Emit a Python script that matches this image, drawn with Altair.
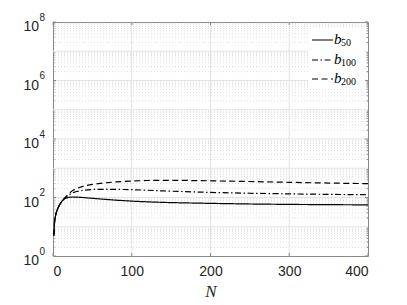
import altair as alt
import pandas as pd

# ---- data ----
N = [1, 2, 3, 4, 6, 8, 10, 12, 15, 20, 25, 30, 40, 50, 60, 70, 80, 100, 120, 140, 160, 200, 250, 300, 350, 400]
b50 = [5, 15, 22, 30, 42, 54, 66, 78, 92, 102, 104, 103, 99, 94, 89, 85, 81, 75, 71, 68, 66, 63, 60, 58, 57, 56]
b100 = [5, 15, 22, 30, 42, 54, 66, 79, 96, 122, 145, 160, 178, 188, 191, 191, 190, 185, 177, 168, 161, 149, 140, 133, 128, 124]
b200 = [5, 15, 22, 30, 42, 54, 66, 79, 97, 135, 175, 205, 250, 280, 305, 325, 340, 365, 382, 388, 386, 372, 352, 330, 312, 297]

series_names = ["b50", "b100", "b200"]
series_subs = ["50", "100", "200"]
series_values = [b50, b100, b200]
series_dash = [[1, 0], [6, 2.5, 1.5, 2.5], [6, 3.5]]

x_ticks = [0, 100, 200, 300, 400]
x_grid = [100, 200, 300]
y_major = [1, 1e2, 1e4, 1e6, 1e8]
y_exps = ["0", "2", "4", "6", "8"]
y_major_grid = [1e1, 1e2, 1e3, 1e4, 1e5, 1e6, 1e7]
y_minor = [m * 10 ** d for d in range(8) for m in range(2, 10)]

W, H = 315, 234
FRAME = "#8a8a8a"
TXT = "#262626"

x_enc = alt.X("N:Q", scale=alt.Scale(domain=[0, 400], nice=False, zero=False),
              axis=alt.Axis(values=x_ticks, title="N", grid=False, domain=False, ticks=False,
                            labelFont="Liberation Sans", labelFontSize=14, labelColor=TXT,
                            labelPadding=8, titleFont="Liberation Serif", titleFontStyle="italic",
                            titleFontWeight="normal", titleFontSize=17, titleColor=TXT,
                            titlePadding=5))
y_scale = alt.Scale(type="log", domain=[1, 1e8], nice=False)


def y_enc(field="v"):
    return alt.Y(f"{field}:Q", scale=y_scale, axis=None)


layers = []

# minor dotted grid
layers.append(alt.Chart(pd.DataFrame({"v": y_minor})).mark_rule(
    color="#dcdcdc", strokeWidth=1, strokeDash=[1, 2]).encode(y=y_enc()))
# major grid
layers.append(alt.Chart(pd.DataFrame({"v": y_major_grid})).mark_rule(
    color="#e3e3e3", strokeWidth=1).encode(y=y_enc()))
layers.append(alt.Chart(pd.DataFrame({"N": x_grid})).mark_rule(
    color="#e3e3e3", strokeWidth=1).encode(x=x_enc))

# inward ticks
xt = pd.DataFrame({"N": x_ticks})
layers.append(alt.Chart(xt).mark_rule(color=FRAME).encode(x=x_enc, y=alt.value(H), y2=alt.value(H - 3)))
layers.append(alt.Chart(xt).mark_rule(color=FRAME).encode(x=x_enc, y=alt.value(0), y2=alt.value(3)))
yt = pd.DataFrame({"v": y_major})
layers.append(alt.Chart(yt).mark_rule(color=FRAME).encode(y=y_enc(), x=alt.value(0), x2=alt.value(3)))
layers.append(alt.Chart(yt).mark_rule(color=FRAME).encode(y=y_enc(), x=alt.value(W), x2=alt.value(W - 3)))
ym = pd.DataFrame({"v": y_minor})
layers.append(alt.Chart(ym).mark_rule(color=FRAME).encode(y=y_enc(), x=alt.value(0), x2=alt.value(1.5)))
layers.append(alt.Chart(ym).mark_rule(color=FRAME).encode(y=y_enc(), x=alt.value(W), x2=alt.value(W - 1.5)))

# data lines
for name, vals, dash in zip(series_names, series_values, series_dash):
    df = pd.DataFrame({"N": N, "v": vals})
    layers.append(alt.Chart(df).mark_line(color="black", strokeWidth=1.2, strokeDash=dash,
                                          clip=True).encode(x=x_enc, y=y_enc()))

# legend (white box, samples, labels)
layers.append(alt.Chart(pd.DataFrame({"a": [0]})).mark_rect(color="white").encode(
    x=alt.value(255), x2=alt.value(312), y=alt.value(6), y2=alt.value(66)))
row_y = [18, 38, 57]
for sub, dash, ry in zip(series_subs, series_dash, row_y):
    one = pd.DataFrame({"t": ["b"], "s": [sub]})
    layers.append(alt.Chart(one).mark_rule(color="black", strokeWidth=1.2, strokeDash=dash).encode(
        x=alt.value(259), x2=alt.value(280), y=alt.value(ry)))
    layers.append(alt.Chart(one).mark_text(font="Liberation Serif", fontStyle="italic", fontSize=15,
                                           align="left", baseline="alphabetic", color="black").encode(
        text="t:N", x=alt.value(281), y=alt.value(ry + 4)))
    layers.append(alt.Chart(one).mark_text(font="Liberation Serif", fontSize=10,
                                           align="left", baseline="alphabetic", color="black").encode(
        text="s:N", x=alt.value(288), y=alt.value(ry + 6)))

# y tick labels 10^k
ylab = pd.DataFrame({"v": y_major, "base": ["10"] * len(y_major), "e": y_exps})
layers.append(alt.Chart(ylab).mark_text(font="Liberation Sans", fontSize=14, align="right",
                                        baseline="alphabetic", dy=9, color=TXT).encode(
    y=y_enc(), x=alt.value(-14), text="base:N"))
layers.append(alt.Chart(ylab).mark_text(font="Liberation Sans", fontSize=10, align="left",
                                        baseline="alphabetic", dy=-1.5, color=TXT).encode(
    y=y_enc(), x=alt.value(-13.5), text="e:N"))

chart = alt.layer(*layers).properties(
    width=W, height=H,
    autosize=alt.AutoSizeParams(type="none"),
    padding={"left": 45, "top": 14, "right": 30, "bottom": 48},
    background="white",
).configure_view(stroke=FRAME, strokeWidth=1)

chart.save("out.html", embed_options={"renderer": "svg", "actions": False})
